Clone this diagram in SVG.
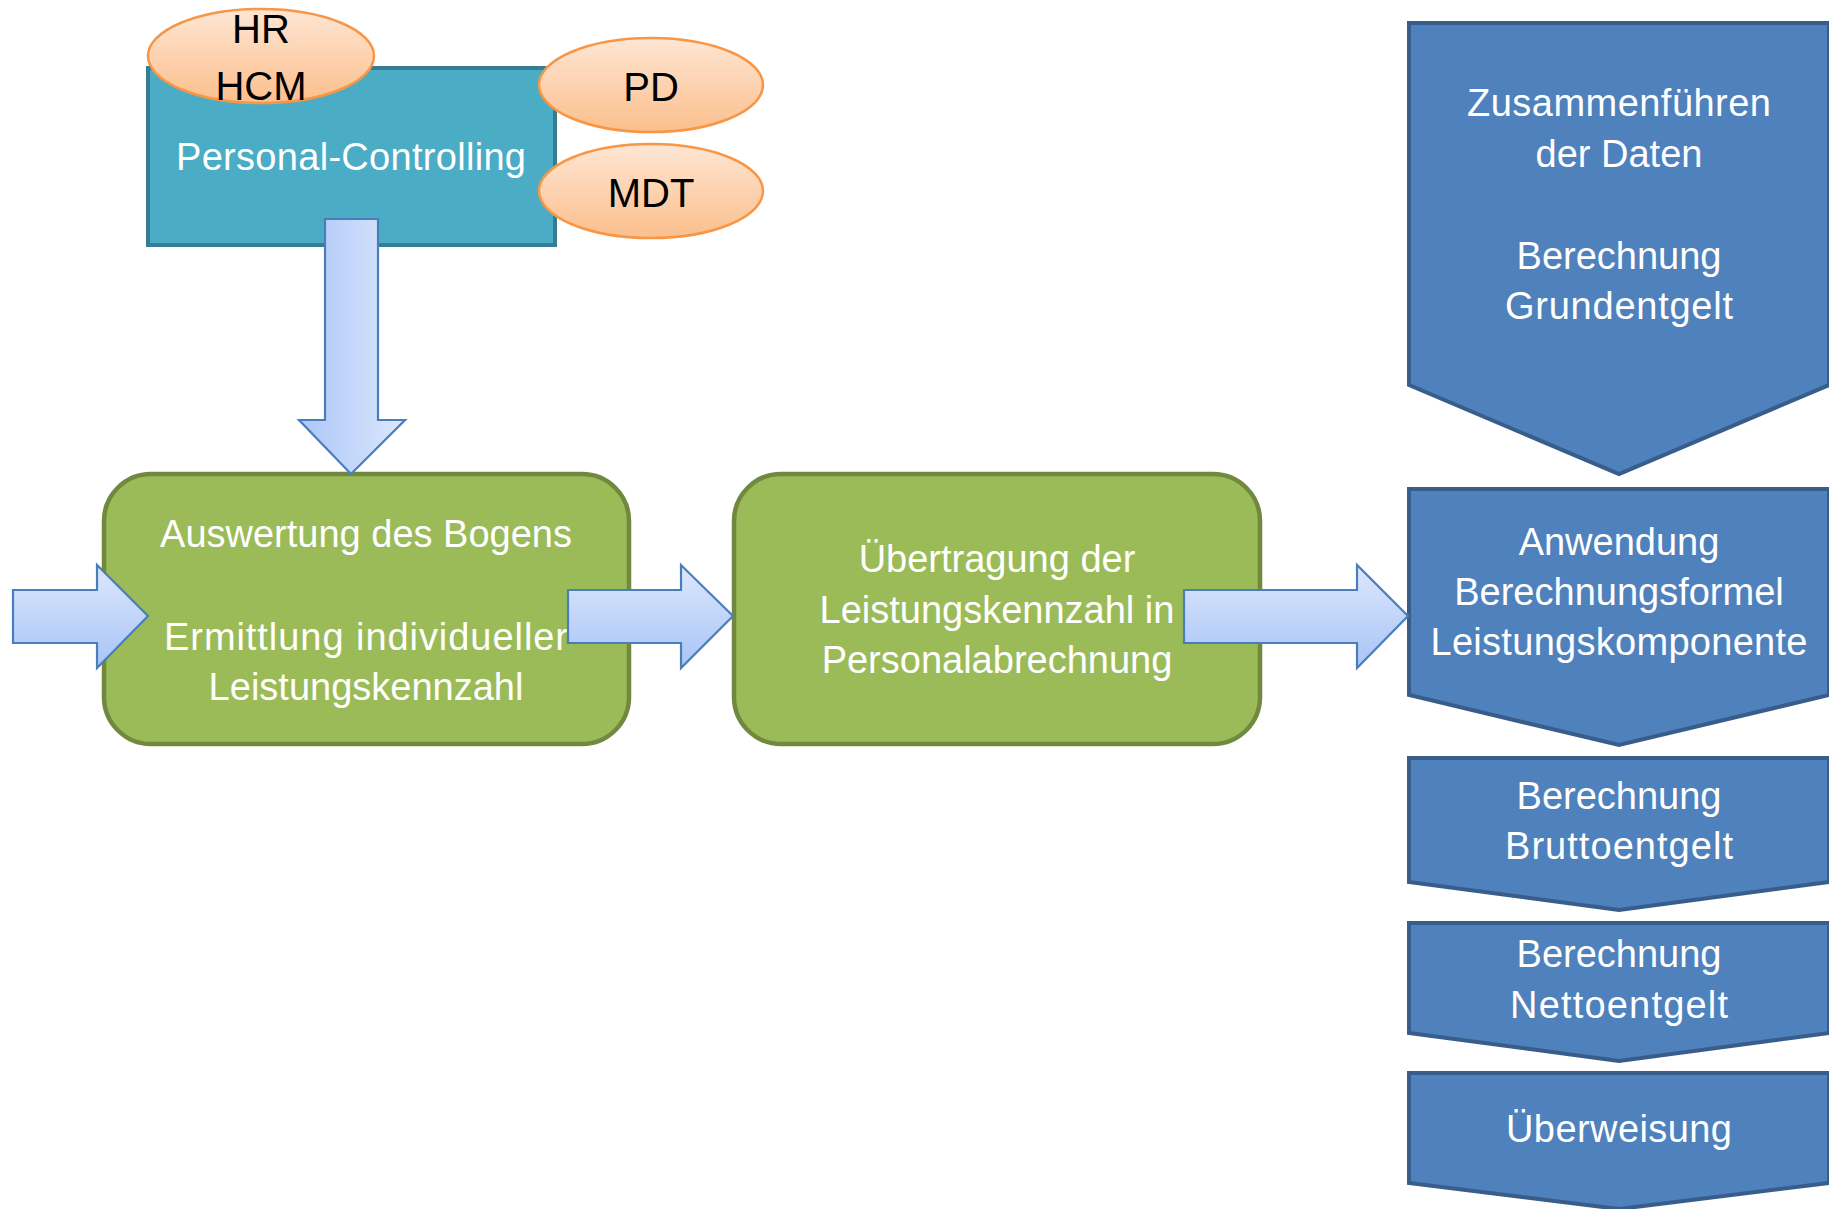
<svg xmlns="http://www.w3.org/2000/svg" width="1829" height="1209" viewBox="0 0 1829 1209">
<defs>
<linearGradient id="gOrange" x1="0" y1="0" x2="0" y2="1">
<stop offset="0" stop-color="#FEE6D4"/>
<stop offset="1" stop-color="#FBBF8C"/>
</linearGradient>
<linearGradient id="gArrowH" x1="0" y1="0" x2="0" y2="1">
<stop offset="0" stop-color="#DCE7FD"/>
<stop offset="1" stop-color="#A9C4F6"/>
</linearGradient>
<linearGradient id="gArrowV" x1="0" y1="0" x2="1" y2="0">
<stop offset="0" stop-color="#ABC6F7"/>
<stop offset="1" stop-color="#DDE8FD"/>
</linearGradient>
<style>
.teal{fill:#4BACC6;stroke:#357D91;stroke-width:4}
.oval{fill:url(#gOrange);stroke:#F79646;stroke-width:2.5}
.green{fill:#9BBB59;stroke:#71893F;stroke-width:4.5}
.chev{fill:#4F81BD;stroke:#385D8A;stroke-width:4;stroke-linejoin:miter}
.arrH{fill:url(#gArrowH);stroke:#4A7EBB;stroke-width:2.2}
.arrV{fill:url(#gArrowV);stroke:#4A7EBB;stroke-width:2.2}
.wt{font-family:"Liberation Sans",Arial,sans-serif;font-size:38px;fill:#FFFFFF;text-anchor:middle}
.bt{font-family:"Liberation Sans",Arial,sans-serif;font-size:40px;fill:#000000;text-anchor:middle}
</style>
</defs>
<rect width="1829" height="1209" fill="#FFFFFF"/>

<g id="personal-controlling">
<rect class="teal" x="148" y="68" width="407" height="177"/>
<text class="wt" x="351" y="170" textLength="350">Personal-Controlling</text>
</g>
<g id="hr-hcm">
<ellipse class="oval" cx="261" cy="56" rx="113" ry="47"/>
<text class="bt" x="261" y="43">HR</text>
<text class="bt" x="261" y="100">HCM</text>
</g>
<g id="pd">
<ellipse class="oval" cx="651" cy="85" rx="112" ry="47"/>
<text class="bt" x="651" y="101">PD</text>
</g>
<g id="mdt">
<ellipse class="oval" cx="651" cy="191" rx="112" ry="47"/>
<text class="bt" x="651" y="207">MDT</text>
</g>

<g id="auswertung">
<rect class="green" x="104" y="474" width="525" height="270" rx="47" ry="47"/>
<text class="wt" x="366" y="547">Auswertung des Bogens</text>
<text class="wt" x="366" y="650" textLength="404">Ermittlung individueller</text>
<text class="wt" x="366" y="700">Leistungskennzahl</text>
</g>
<g id="uebertragung">
<rect class="green" x="734" y="474" width="526" height="270" rx="47" ry="47"/>
<text class="wt" x="997" y="572">Übertragung der</text>
<text class="wt" x="997" y="623">Leistungskennzahl in</text>
<text class="wt" x="997" y="673">Personalabrechnung</text>
</g>

<g id="zusammenfuehren">
<polygon class="chev" points="1409,23 1829,23 1829,385 1619,474 1409,385"/>
<text class="wt" x="1619" y="116" textLength="304">Zusammenführen</text>
<text class="wt" x="1619" y="167">der Daten</text>
<text class="wt" x="1619" y="269">Berechnung</text>
<text class="wt" x="1619" y="319" textLength="228">Grundentgelt</text>
</g>
<g id="anwendung">
<polygon class="chev" points="1409,489 1829,489 1829,695 1619,745 1409,695"/>
<text class="wt" x="1619" y="555">Anwendung</text>
<text class="wt" x="1619" y="605">Berechnungsformel</text>
<text class="wt" x="1619" y="655" textLength="377">Leistungskomponente</text>
</g>
<g id="brutto">
<polygon class="chev" points="1409,758 1829,758 1829,882 1619,910 1409,882"/>
<text class="wt" x="1619" y="809">Berechnung</text>
<text class="wt" x="1619" y="859" textLength="228">Bruttoentgelt</text>
</g>
<g id="netto">
<polygon class="chev" points="1409,923 1829,923 1829,1033 1619,1061 1409,1033"/>
<text class="wt" x="1619" y="967">Berechnung</text>
<text class="wt" x="1619" y="1018" textLength="218">Nettoentgelt</text>
</g>
<g id="ueberweisung">
<polygon class="chev" points="1409,1073 1829,1073 1829,1183 1619,1209 1409,1183"/>
<text class="wt" x="1619" y="1142" textLength="226">Überweisung</text>
</g>

<g id="connectors">
<polygon class="arrV" points="325,219 378,219 378,420 405,420 351,474 299,420 325,420"/>
<polygon class="arrH" points="13,590 97,590 97,565 148,616 97,668 97,643 13,643"/>
<polygon class="arrH" points="568,590 681,590 681,565 733,616 681,668 681,643 568,643"/>
<polygon class="arrH" points="1184,590 1357,590 1357,565 1408,616 1357,668 1357,643 1184,643"/>
</g>
</svg>
